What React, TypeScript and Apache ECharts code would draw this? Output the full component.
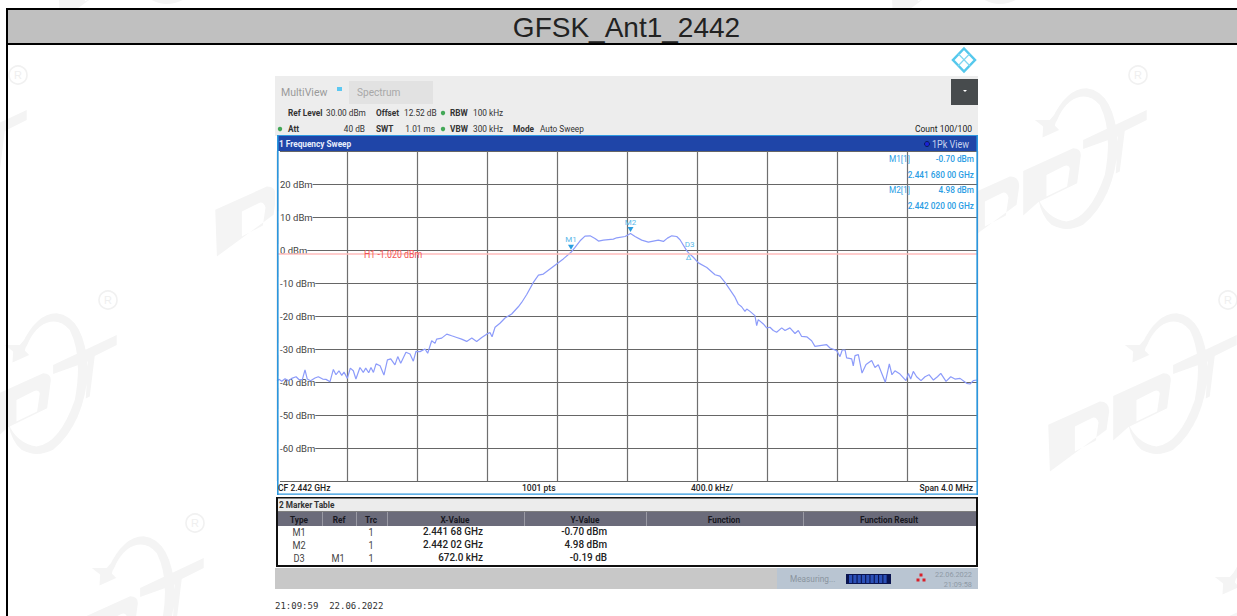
import React, { useEffect, useRef } from "react";
import * as echarts from "echarts";

const TITLE = "GFSK_Ant1_2442";
const FREQ_KHZ = [0,13,27,46,65,84,109,128,145,160,173,192,217,236,261,280,303,322,337,354,370,383,402,419,436,451,474,493,507,524,537,551,566,589,611,631,650,674,690,707,737,760,779,794,817,846,861,884,903,912,941,970,998,1027,1055,1084,1113,1141,1170,1198,1217,1229,1246,1274,1303,1341,1379,1398,1427,1465,1494,1522,1579,1636,1680,1703,1732,1760,1789,1817,1837,1865,1922,1941,1989,2020,2046,2084,2122,2179,2208,2231,2256,2284,2303,2341,2352,2379,2408,2456,2503,2531,2560,2589,2617,2636,2655,2674,2684,2703,2731,2741,2750,2779,2798,2817,2836,2855,2884,2903,2931,2960,2979,2998,3027,3055,3074,3112,3141,3160,3198,3217,3230,3246,3255,3284,3293,3303,3322,3343,3366,3398,3417,3436,3476,3499,3514,3531,3560,3594,3608,3621,3636,3655,3680,3703,3726,3751,3774,3793,3823,3850,3874,3903,3941,3960,3979,4000];
const LEVEL_DBM = [-39.6,-39.2,-39.8,-39,-39.6,-38.9,-38.4,-39.4,-39.2,-36.3,-39.1,-39.6,-38.8,-38.4,-39.1,-39.2,-39.9,-36.2,-37.8,-36.6,-38,-37,-38.9,-35.8,-36.6,-39.1,-35.6,-37.1,-35.8,-37.2,-35.6,-37.1,-34.5,-35.1,-37.9,-33.3,-33,-34.8,-32.3,-34.3,-31,-31.5,-33.7,-30.7,-30.8,-30,-31.3,-27.5,-28.3,-27,-26.7,-25.5,-26,-26.5,-27,-27.7,-26.7,-27.7,-26.5,-25.5,-25,-26.3,-23.4,-22.2,-20.6,-19.4,-17.2,-15.9,-13.5,-9.8,-7.6,-7.3,-5,-2.7,-0.7,0.8,2.8,4.2,4.3,3.5,2.7,3,3.3,3.7,4.1,4.98,4.1,3,2.4,3,2.6,3.6,4.3,4.1,3.1,-0.2,-0.89,-2.2,-3.9,-5.3,-7.5,-7.9,-9.8,-12.1,-14.3,-16.4,-17.2,-18.6,-17.9,-18.6,-19.9,-22.9,-21.1,-22.4,-23.6,-23.4,-24.4,-24.9,-23.6,-24.4,-23.6,-25.3,-24.4,-26.2,-26.3,-27.5,-29.2,-28.9,-28.7,-29.7,-30.5,-32.3,-30.3,-30.3,-32.7,-33,-35.1,-32,-31.7,-37.3,-34.7,-33.5,-35.6,-34.8,-40.1,-34.5,-37.8,-36.6,-37.6,-39.6,-37.4,-39.1,-36.8,-38.4,-39.6,-38.4,-37.8,-39.4,-38.4,-37.4,-39.8,-38.4,-39.1,-38.9,-40.4,-40.6,-39.6,-39.4];
const H1_LEVEL = -1.02;
const M1 = [1680, -0.7];
const M2 = [2020, 4.98];
const D3 = [2352, -0.89];
const TABLE_HEAD = ["Type", "Ref", "Trc", "X-Value", "Y-Value", "Function", "Function Result"];
const TABLE_ROWS = [
  ["M1", "", "1", "2.441 68 GHz", "-0.70 dBm"],
  ["M2", "", "1", "2.442 02 GHz", "4.98 dBm"],
  ["D3", "M1", "1", "672.0 kHz", "-0.19 dB"],
];

const FONT = "Roboto, sans-serif";
const CY = "#2a9de4";

const LOGO_PATH =
  "M265 405 L420 335 Q448 335 448 365 L440 420 L270 545 Z M345 410 L345 485 L408 452 L416 398 Q410 378 395 385 Z " +
  "M460 318 L610 250 Q638 250 632 280 L622 355 L505 412 L460 452 Z M530 330 L530 395 L592 365 L600 310 Q596 296 580 305 Z " +
  "M545 165 Q590 70 650 70 Q735 80 745 240 Q735 400 640 480 Q590 505 545 480 Q515 455 505 400 Q530 460 590 470 Q660 460 705 330 Q730 200 690 120 Q650 75 600 110 Q575 130 560 170 Z " +
  "M495 165 L540 165 L570 130 L555 182 L568 195 L518 218 L520 185 Z " +
  "M640 225 L831 135 L831 165 L765 198 L750 320 L738 326 L745 215 L640 252 Z";
echarts.graphic.registerShape("ddtLogo", echarts.graphic.extendPath(LOGO_PATH, {}) as any);

function T(text: string, x: number, y: number, o: any = {}) {
  const { size = 9, weight = "normal", fill = "#333", align = "left", sx = 0.92, family = FONT, z = 20 } = o;
  return {
    type: "text", x, y, scaleX: sx, z, silent: true,
    style: { text, x: 0, y: 0, fill, align, verticalAlign: "middle", font: `${weight} ${size}px ${family}` },
  };
}
function R(x: number, y: number, w: number, h: number, fill: string, z = 5) {
  return { type: "rect", z, silent: true, shape: { x, y, width: w, height: h }, style: { fill } };
}

function watermarks() {
  const out: any[] = [];
  const logos = [[960, 290], [870, 65], [-160, 290], [-73, 513], [1050, 522], [-250, 65], [127, 75], [803, -160], [-30, -160]];
  logos.forEach(([x, y]) => {
    out.push({ type: "ddtLogo", x, y, scaleX: 1 / 3, scaleY: 1 / 3, z: -30, silent: true, style: { fill: "#f4f4f4" } });
    const rx = x + 268, ry = y + 10;
    if (rx > 0 && rx < 1237 && ry > 45 && ry < 616 && !(rx > 270 && rx < 985)) {
      out.push({ type: "circle", z: -30, silent: true, shape: { cx: rx, cy: ry, r: 9 }, style: { fill: "none", stroke: "#f1f1f1", lineWidth: 1.6 } });
      out.push({
        type: "text", x: rx, y: ry, z: -30, silent: true,
        style: { text: "R", fill: "#efefef", align: "center", verticalAlign: "middle", font: "11px 'Liberation Sans'" },
      });
    }
  });
  return out;
}

function buildGraphic() {
  const g: any[] = [...watermarks()];
  // page table frame
  g.push(R(8, 10, 1229, 33, "#c0c0c0", 1));
  g.push(R(6, 8, 1231, 2, "#000", 2));
  g.push(R(6, 43, 1231, 2, "#000", 2));
  g.push(R(6, 8, 2, 608, "#000", 2));
  g.push(T(TITLE, 626.5, 27, { size: 28, family: "'Liberation Sans'", fill: "#222", align: "center", sx: 1 }));
  // R&S logo
  g.push({ type: "polygon", z: 6, silent: true, shape: { points: [[964, 48.5], [975, 60], [964, 71.5], [953, 60]] }, style: { fill: "#fff", stroke: "#55c8ec", lineWidth: 2.5 } });
  g.push({ type: "line", z: 6, silent: true, shape: { x1: 958.5, y1: 54, x2: 970, y2: 66 }, style: { stroke: "#7fd6f0", lineWidth: 1.2 } });
  g.push({ type: "line", z: 6, silent: true, shape: { x1: 969.5, y1: 54, x2: 958, y2: 66 }, style: { stroke: "#7fd6f0", lineWidth: 1.2 } });
  // instrument picture
  g.push(R(275, 45, 703, 571, "#ffffff", -10));
  g.push(R(275, 76, 703, 60, "#ededed", 3));
  g.push(R(349, 81, 84, 23, "#e2e2e2", 4));
  g.push(R(337, 87, 5, 4, "#5cc8f2", 4));
  g.push(R(951, 79, 27, 26, "#474b4d", 4));
  g.push({ type: "polygon", z: 6, silent: true, shape: { points: [[963, 90], [967, 90], [965, 92]] }, style: { fill: "#fff" } });
  g.push(T("MultiView", 281, 92, { size: 11.5, fill: "#9a9a9a" }));
  g.push(T("Spectrum", 357, 92, { size: 11, fill: "#a8a8a8" }));
  g.push(T("Ref Level", 288, 113, { weight: "bold" }));
  g.push(T("30.00 dBm", 326, 113));
  g.push(T("Offset", 376, 113, { weight: "bold" }));
  g.push(T("12.52 dB", 404, 113));
  g.push(T("RBW", 450, 113, { weight: "bold" }));
  g.push(T("100 kHz", 473, 113));
  g.push(T("Att", 288, 129, { weight: "bold" }));
  g.push(T("40 dB", 365, 129, { align: "right" }));
  g.push(T("SWT", 376, 129, { weight: "bold" }));
  g.push(T("1.01 ms", 435, 129, { align: "right" }));
  g.push(T("VBW", 450, 129, { weight: "bold" }));
  g.push(T("300 kHz", 473, 129));
  g.push(T("Mode", 513, 129, { weight: "bold" }));
  g.push(T("Auto Sweep", 540, 129));
  g.push(T("Count 100/100", 972, 129, { align: "right", fill: "#222", sx: 0.95 }));
  [[280, 129], [443, 113], [443, 129]].forEach(([x, y]) =>
    g.push({ type: "circle", z: 6, silent: true, shape: { cx: x, cy: y, r: 2.2 }, style: { fill: "#44a858" } })
  );
  // sweep window
  g.push(R(277, 135, 701, 16, "#1f45a8", 4));
  g.push(R(277, 135, 701, 1, "#2f9ae2", 5));
  g.push(T("1 Frequency Sweep", 279, 144, { fill: "#e8eefc", weight: "bold" }));
  g.push({ type: "circle", z: 6, silent: true, shape: { cx: 927, cy: 144, r: 2.5 }, style: { fill: "#1a22d8", stroke: "#0a1a5a" } });
  g.push(T("1Pk View", 969, 144, { align: "right", fill: "#c8d4ee", size: 10, sx: 0.9 }));
  g.push(R(277, 135, 1.6, 360, "#2b96de", 12));
  g.push(R(976.4, 135, 1.6, 360, "#2b96de", 12));
  g.push(R(277, 493.4, 701, 1.4, "#2b96de", 12));
  // marker readouts
  g.push(T("M1[1]", 889, 159, { fill: CY }));
  g.push(T("-0.70 dBm", 974, 159, { fill: CY, align: "right", weight: "500" }));
  g.push(T("2.441 680 00 GHz", 974, 175, { fill: CY, align: "right", weight: "500" }));
  g.push(T("M2[1]", 889, 190, { fill: CY }));
  g.push(T("4.98 dBm", 974, 190, { fill: CY, align: "right", weight: "500" }));
  g.push(T("2.442 020 00 GHz", 974, 206, { fill: CY, align: "right", weight: "500" }));
  g.push(T("H1 -1.020 dBm", 364, 254, { fill: "#f25555", size: 10, sx: 0.88 }));
  // footer of sweep
  g.push(T("CF 2.442 GHz", 278, 488, { fill: "#222", sx: 0.95, weight: "500" }));
  g.push(T("1001 pts", 522, 488, { fill: "#222", sx: 0.95, weight: "500" }));
  g.push(T("400.0 kHz/", 691, 488, { fill: "#222", sx: 0.95, weight: "500" }));
  g.push(T("Span 4.0 MHz", 973, 488, { fill: "#222", align: "right", sx: 0.95, weight: "500" }));
  // marker table
  g.push(R(276, 497, 702, 70, "#101010", 3));
  g.push(R(278, 498.5, 698, 13, "#ececec", 4));
  g.push(R(278, 512, 698, 14, "#6b6b7a", 4));
  g.push(R(278, 526, 698, 39, "#ffffff", 4));
  [322, 356, 387, 524, 646, 803].forEach((x) => g.push(R(x, 512, 1, 14, "#9a9aa4", 5)));
  g.push(T("2 Marker Table", 279, 505, { fill: "#333", weight: "bold", sx: 0.92 }));
  const colX = [299, 339, 371, 455, 585, 724, 889];
  TABLE_HEAD.forEach((h, i) => g.push(T(h, colX[i], 519.5, { fill: "#17171f", weight: "bold", align: "center" })));
  const rowY = [532, 545, 558];
  TABLE_ROWS.forEach((row, r) => {
    g.push(T(row[0], 299, rowY[r], { fill: "#444", align: "center", size: 10 }));
    if (row[1]) g.push(T(row[1], 338, rowY[r], { fill: "#444", align: "center", size: 10 }));
    g.push(T(row[2], 371, rowY[r], { fill: "#444", align: "center", size: 10 }));
    g.push(T(row[3], 483, rowY[r] - 0.5, { fill: "#222", align: "right", size: 11, sx: 0.9, weight: "500" }));
    g.push(T(row[4], 607, rowY[r] - 0.5, { fill: "#222", align: "right", size: 11, sx: 0.9, weight: "500" }));
  });
  // status bar
  g.push(R(275, 568, 502, 21, "#c8c8c8", 4));
  g.push(R(777, 568, 201, 21, "#b9c5d2", 4));
  g.push(T("Measuring...", 790, 578.5, { fill: "#8a949e" }));
  g.push(R(846, 574, 45, 10, "#0a1450", 5));
  for (let i = 0; i < 9; i++) g.push(R(849 + i * 4.3, 575, 3.2, 8, "#2b50b8", 6));
  [[921, 575], [918, 580], [924, 580]].forEach(([x, y]) => g.push(R(x - 1.5, y - 1.5, 3, 3, "#d8202a", 6)));
  g.push(T("22.06.2022", 972, 574, { fill: "#8f9aa6", size: 8, align: "right" }));
  g.push(T("21:09:58", 972, 584, { fill: "#8f9aa6", size: 8, align: "right" }));
  g.push(T("21:09:59  22.06.2022", 275, 606, { fill: "#333", size: 9, family: "'DejaVu Sans Mono'", sx: 1 }));
  return g;
}

export default function App() {
  const ref = useRef<HTMLDivElement>(null);
  useEffect(() => {
    const chart = echarts.init(ref.current!, undefined, { renderer: "svg" });
    const lab = { color: "#58b8ea", fontSize: 8, fontFamily: FONT };
    const mk = (name: string, coord: number[], off: number) => ({
      name, coord, symbol: "triangle", symbolSize: [6, 5], symbolRotate: 180, symbolOffset: [0, off],
      itemStyle: { color: "#2a9ee0" },
      label: { show: true, formatter: name, position: "top", distance: 1, ...lab },
    });
    chart.setOption({
      animation: false,
      backgroundColor: "#fff",
      textStyle: { fontFamily: FONT },
      grid: { left: 277, top: 151, width: 700, height: 330, containLabel: false },
      xAxis: {
        type: "value", min: 0, max: 4000, interval: 400,
        axisLabel: { show: false }, axisTick: { show: false }, axisLine: { show: false },
        splitLine: { show: true, lineStyle: { color: "#6f6f6f", width: 1.2 } },
      },
      yAxis: {
        type: "value", min: -70, max: 30, interval: 10,
        axisLine: { show: false }, axisTick: { show: false },
        splitLine: { show: true, lineStyle: { color: "#666", width: 1.2 } },
        axisLabel: {
          inside: true, margin: 0, fontSize: 9.5, color: "#444", fontFamily: FONT,
          backgroundColor: "#fff", padding: [1, 0, 1, 3],
          formatter: (v: number) => (v === 30 || v === -70 ? "" : `${v} dBm`),
        },
      },
      series: [{
        type: "line", symbol: "none", z: 4,
        data: FREQ_KHZ.map((f, i) => [f, LEVEL_DBM[i]]),
        lineStyle: { color: "#8c9bfa", width: 1.2 },
        markLine: {
          silent: true, symbol: "none", animation: false,
          lineStyle: { color: "#ffbcbc", width: 1.6, type: "solid" },
          label: { show: false },
          data: [{ yAxis: H1_LEVEL }],
        },
        markPoint: {
          silent: true, animation: false,
          data: [
            mk("M1", M1, -5),
            mk("M2", M2, -4),
            { name: "D3d", coord: D3, symbol: "circle", symbolSize: 1, itemStyle: { color: "rgba(0,0,0,0)" }, label: { show: true, formatter: "Δ", position: "bottom", distance: 0, ...lab } },
            { name: "D3", coord: D3, symbol: "circle", symbolSize: 1, itemStyle: { color: "rgba(0,0,0,0)" }, label: { show: true, formatter: "D3", position: "top", distance: 3, offset: [1, -1], ...lab } },
          ],
        },
      }],
      graphic: { elements: buildGraphic() },
    });
    return () => chart.dispose();
  }, []);
  return <div ref={ref} style={{ position: "absolute", left: 0, top: 0, width: 1237, height: 616 }} />;
}
